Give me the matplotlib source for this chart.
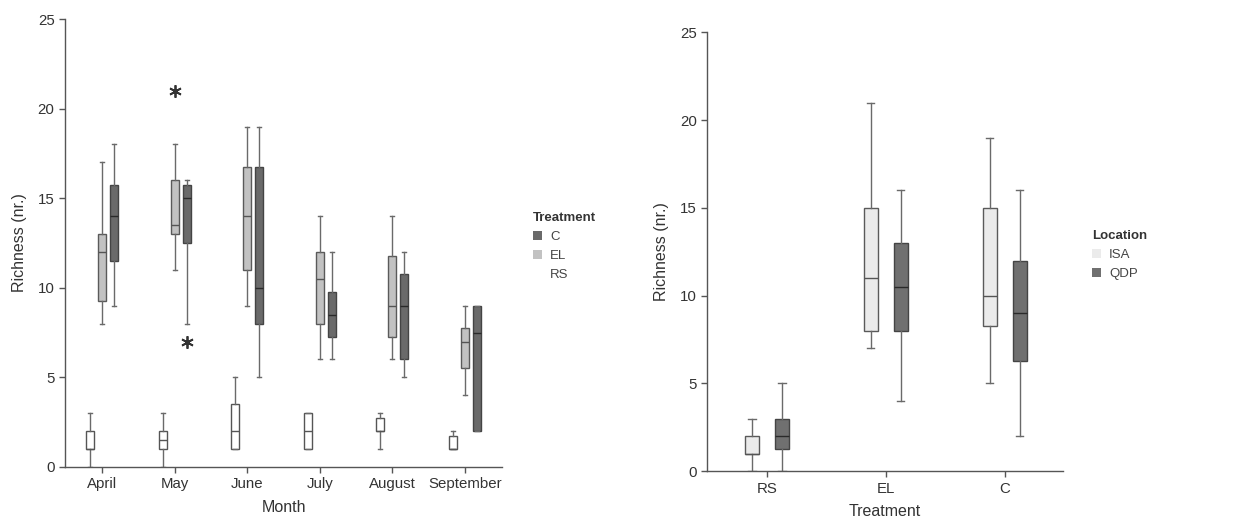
import numpy as np
import matplotlib.pyplot as plt
from matplotlib.patches import Patch

plt.rcParams['font.family'] = ['Liberation Sans', 'DejaVu Sans']

# left panel: richness by month and treatment
months = ['April', 'May', 'June', 'July', 'August', 'September']
rs_lo  = [0, 0, 1, 1, 1, 1]
rs_q1  = [1, 1, 1, 1, 2, 1]
rs_med = [1, 1.5, 2, 2, 2, 1]
rs_q3  = [2, 2, 3.5, 3, 2.75, 1.75]
rs_hi  = [3, 3, 5, 3, 3, 2]
rs_out = [[], [], [], [], [], []]

el_lo  = [8, 11, 9, 6, 6, 4]
el_q1  = [9.25, 13, 11, 8, 7.25, 5.5]
el_med = [12, 13.5, 14, 10.5, 9, 7]
el_q3  = [13, 16, 16.75, 12, 11.75, 7.75]
el_hi  = [17, 18, 19, 14, 14, 9]
el_out = [[], [21], [], [], [], []]

c_lo  = [9, 8, 5, 6, 5, 2]
c_q1  = [11.5, 12.5, 8, 7.25, 6, 2]
c_med = [14, 15, 10, 8.5, 9, 7.5]
c_q3  = [15.75, 15.75, 16.75, 9.75, 10.75, 9]
c_hi  = [18, 16, 19, 12, 12, 9]
c_out = [[], [7], [], [], [], []]

# right panel: richness by treatment and location
treatments = ['RS', 'EL', 'C']
isa_lo  = [0, 7, 5]
isa_q1  = [1, 8, 8.25]
isa_med = [1, 11, 10]
isa_q3  = [2, 15, 15]
isa_hi  = [3, 21, 19]

qdp_lo  = [0, 4, 2]
qdp_q1  = [1.25, 8, 6.25]
qdp_med = [2, 10.5, 9]
qdp_q3  = [3, 13, 12]
qdp_hi  = [5, 16, 16]


def stats(lo, q1, med, q3, hi, out=None):
	res = []
	for i in range(len(lo)):
		res.append(dict(whislo=lo[i], q1=q1[i], med=med[i], q3=q3[i], whishi=hi[i],
						fliers=out[i] if out else []))
	return res


def draw(ax, st, pos, width, face, edge, medc):
	ax.bxp(st, positions=pos, widths=width, patch_artist=True, showfliers=True,
		   boxprops=dict(facecolor=face, edgecolor=edge, linewidth=1.0),
		   medianprops=dict(color=medc, linewidth=1.0),
		   whiskerprops=dict(color='#6a6a6a', linewidth=1.0),
		   capprops=dict(color='#6a6a6a', linewidth=1.0),
		   flierprops=dict(marker=(6, 2, 0), markersize=9, markeredgecolor='#333333',
						   markeredgewidth=1.3, markerfacecolor='#333333'))


def style(ax):
	for s in ['top', 'right']:
		ax.spines[s].set_visible(False)
	for s in ['left', 'bottom']:
		ax.spines[s].set_color('#555555')
		ax.spines[s].set_linewidth(1.0)
	ax.tick_params(colors='#555555', labelcolor='#333333', labelsize=10.8, length=4, width=1.0)
	ax.set_ylim(0, 25)
	ax.set_yticks([0, 5, 10, 15, 20, 25])


fig = plt.figure(figsize=(12.47, 5.30), dpi=100)

ax1 = fig.add_axes([0.0521, 0.119, 0.3505, 0.845])
x = np.arange(len(months))
off = 0.165
draw(ax1, stats(rs_lo, rs_q1, rs_med, rs_q3, rs_hi, rs_out), x - off, 0.11, 'white', '#555555', '#555555')
draw(ax1, stats(el_lo, el_q1, el_med, el_q3, el_hi, el_out), x, 0.11, '#c2c2c2', '#5a5a5a', '#555555')
draw(ax1, stats(c_lo, c_q1, c_med, c_q3, c_hi, c_out), x + off, 0.11, '#6a6a6a', '#444444', '#2a2a2a')
style(ax1)
ax1.set_xlim(-0.51, 5.51)
ax1.set_xticks(x)
ax1.set_xticklabels(months)
ax1.set_xlabel('Month', fontsize=11.5, color='#333333', labelpad=6)
ax1.set_ylabel('Richness (nr.)', fontsize=11.5, color='#333333', labelpad=8)

h1 = [Patch(facecolor='#6a6a6a', edgecolor='none'),
	  Patch(facecolor='#c2c2c2', edgecolor='none'),
	  Patch(facecolor='white', edgecolor='none')]
leg1 = fig.legend(h1, ['C', 'EL', 'RS'], title='Treatment', loc='upper left',
				  bbox_to_anchor=(0.418, 0.622), frameon=False, fontsize=9.5,
				  title_fontsize=9.5, alignment='left', handlelength=0.7, handleheight=0.7,
				  handletextpad=0.6, labelspacing=0.5)
leg1.get_title().set_fontweight('bold')
leg1.get_title().set_color('#333333')
for t in leg1.get_texts():
	t.set_color('#444444')

ax2 = fig.add_axes([0.567, 0.111, 0.2855, 0.828])
x2 = np.arange(len(treatments))
off2 = 0.126
draw(ax2, stats(isa_lo, isa_q1, isa_med, isa_q3, isa_hi), x2 - off2, 0.12, '#ebebeb', '#5a5a5a', '#555555')
draw(ax2, stats(qdp_lo, qdp_q1, qdp_med, qdp_q3, qdp_hi), x2 + off2, 0.12, '#707070', '#444444', '#2a2a2a')
style(ax2)
ax2.set_xlim(-0.504, 2.49)
ax2.set_xticks(x2)
ax2.set_xticklabels(treatments)
ax2.set_xlabel('Treatment', fontsize=11.5, color='#333333', labelpad=6)
ax2.set_ylabel('Richness (nr.)', fontsize=11.5, color='#333333', labelpad=8)

h2 = [Patch(facecolor='#ebebeb', edgecolor='none'),
	  Patch(facecolor='#707070', edgecolor='none')]
leg2 = fig.legend(h2, ['ISA', 'QDP'], title='Location', loc='upper left',
				  bbox_to_anchor=(0.866, 0.588), frameon=False, fontsize=9.5,
				  title_fontsize=9.5, alignment='left', handlelength=0.7, handleheight=0.7,
				  handletextpad=0.6, labelspacing=0.5)
leg2.get_title().set_fontweight('bold')
leg2.get_title().set_color('#333333')
for t in leg2.get_texts():
	t.set_color('#444444')

fig.savefig('out.png', dpi=100)
